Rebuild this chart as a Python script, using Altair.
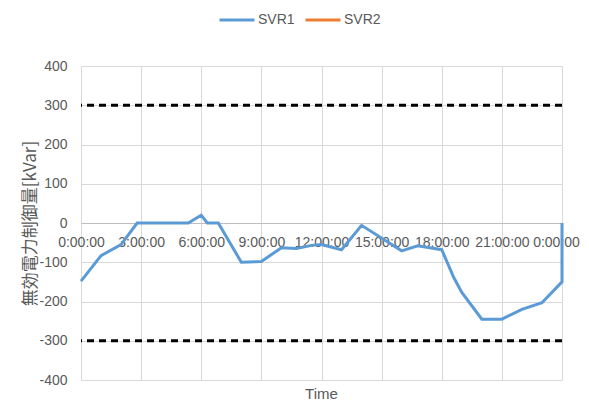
import altair as alt
import pandas as pd

# Time in hours, SVR1 reactive power control [kVar]
hours = [0, 1, 2, 2.8, 5.35, 6, 6.3, 6.85, 8, 9, 10, 10.75, 11.5, 12, 13, 14,
         16, 16.8, 18, 18.6, 19, 20, 21, 22, 23, 24, 24]
svr1 = [-148, -83, -55, 0, 0, 20, 0, 0, -100, -98, -63, -65, -57, -55, -68, -6,
        -71, -58, -68, -139, -177, -245, -245, -220, -203, -150, 0]
series_names = ["SVR1", "SVR2"]
series_colors = ["#5B9BD5", "#ED7D31"]
limits = [300, -300]
x_ticks = [0, 3, 6, 9, 12, 15, 18, 21, 24]
y_ticks = list(range(-400, 401, 100))

df = pd.DataFrame({"t": hours, "v": svr1, "i": list(range(len(hours))),
                   "series": ["SVR1"] * len(hours)})
lim_df = pd.DataFrame({"v": limits})

W, H = 481, 314
FONT = "Liberation Sans"
GRAY = "#595959"

y_enc = alt.Y("v:Q", scale=alt.Scale(domain=[-400, 400], nice=False),
              axis=alt.Axis(values=y_ticks, title="無効電力制御量[kVar]",
                            labelExpr="'' + datum.value", labelOverlap=False,
                            ticks=False, domain=False, labelPadding=14,
                            grid=True, gridColor="#d9d9d9",
                            titleFont="Noto Sans CJK JP", titleFontSize=17,
                            titleFontWeight="normal", titleColor=GRAY,
                            titleX=-51, titleY=H / 2, titleBaseline="middle",
                            titleAlign="center"))

line = alt.Chart(df).mark_line(strokeWidth=3).encode(
    x=alt.X("t:Q", scale=alt.Scale(domain=[0, 24], nice=False, zero=False),
            axis=alt.Axis(values=x_ticks, title=None, offset=-H / 2,
                          labelExpr="(datum.value % 24) + ':00:00'",
                          labelOffset=alt.expr("datum.value == 24 ? -6 : 0"),
                          ticks=False, domain=True, domainColor="#bfbfbf",
                          labelPadding=12, grid=True, gridColor="#d9d9d9",
                          labelFlush=False, labelOverlap=False)),
    y=y_enc,
    color=alt.Color("series:N",
                    scale=alt.Scale(domain=series_names, range=series_colors),
                    legend=alt.Legend(title=None, orient="none", direction="horizontal",
                                      legendX=137, legendY=-65,
                                      symbolType="stroke", symbolSize=1225,
                                      symbolStrokeWidth=3, labelFontSize=14,
                                      labelFont=FONT, labelColor=GRAY,
                                      labelOffset=2, columnPadding=4)),
    order="i:Q",
)

rules = alt.Chart(lim_df).mark_rule(color="black", strokeWidth=3,
                                    strokeDash=[7, 5]).encode(y=y_enc)

chart = alt.layer(line, rules).properties(
    width=W, height=H,
    title=alt.TitleParams("Time", orient="bottom", fontSize=15, font=FONT,
                          color=GRAY, fontWeight="normal", offset=0),
    autosize=alt.AutoSizeParams(type="none"),
    padding={"left": 73, "top": 58, "right": 19, "bottom": 23},
).configure_view(stroke=None).configure_axis(
    labelFont=FONT, labelFontSize=14, labelColor=GRAY
)

chart.save("out.html", embed_options={"renderer": "svg", "actions": False})
